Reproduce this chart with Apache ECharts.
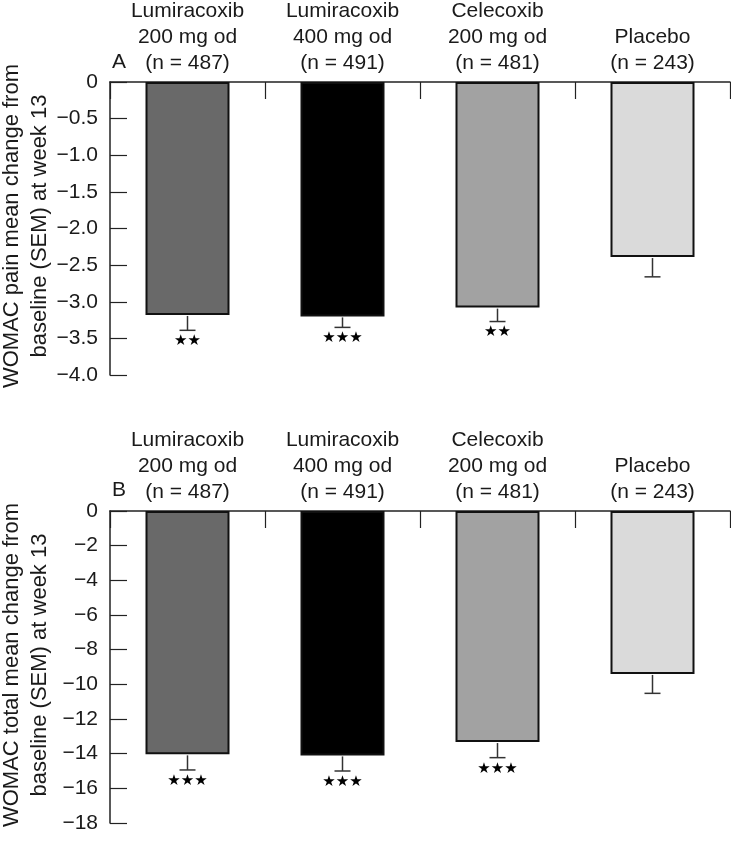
<!DOCTYPE html>
<html>
<head>
<meta charset="utf-8">
<script src="https://cdn.jsdelivr.net/npm/echarts@6/dist/echarts.min.js"></script>
<style>
html,body{margin:0;padding:0;background:#fff;}
#chart{width:731px;height:853px;}
</style>
</head>
<body>
<div id="chart"></div>
<script>
// ---- data ----
var categories = [
  'Lumiracoxib\n200 mg od\n(n = 487)',
  'Lumiracoxib\n400 mg od\n(n = 491)',
  'Celecoxib\n200 mg od\n(n = 481)',
  'Placebo\n(n = 243)'
];
var painMean = [-3.18, -3.20, -3.08, -2.39];
var painSem = [0.21, 0.15, 0.19, 0.27];
var painStars = ['★★', '★★★', '★★', ''];
var totalMean = [-14.04, -14.10, -13.33, -9.40];
var totalSem = [0.90, 0.90, 0.90, 1.12];
var totalStars = ['★★★', '★★★', '★★★', ''];
var painTicks = { min: -4, max: 0, interval: 0.5 };
var totalTicks = { min: -18, max: 0, interval: 2 };
var painTitle = 'WOMAC pain mean change from\nbaseline (SEM) at week 13';
var totalTitle = 'WOMAC total mean change from\nbaseline (SEM) at week 13';
var barColors = ['#696969', '#000000', '#a2a2a2', '#dadada'];

var FONT = 'Liberation Sans';
var TXT = '#1a1a1a';

function errData(mean, sem, stars) {
  return mean.map(function (m, i) { return [i, m, m - sem[i], stars[i]]; });
}

function errRender(params, api) {
  var i = api.value(0);
  var top = api.coord([i, api.value(1)]);
  var bot = api.coord([i, api.value(2)]);
  return { type: 'group', children: [
    { type: 'line', shape: { x1: top[0], y1: top[1] + 1, x2: bot[0], y2: bot[1] },
      style: { stroke: '#333', lineWidth: 1.5 } },
    { type: 'line', shape: { x1: bot[0] - 8, y1: bot[1], x2: bot[0] + 8, y2: bot[1] },
      style: { stroke: '#333', lineWidth: 1.5 } }
  ] };
}

function starRender(params, api) {
  var i = api.value(0);
  var bot = api.coord([i, api.value(2)]);
  return { type: 'text', x: bot[0], y: bot[1] + 11,
    style: { text: api.value(3), fill: '#000', font: '15px "DejaVu Sans"',
      align: 'center', verticalAlign: 'middle' } };
}

function xAxisCfg(gi) {
  return {
    type: 'category', gridIndex: gi, position: 'top', data: categories,
    axisLine: { show: true, lineStyle: { color: '#222', width: 1.5 } },
    axisTick: { show: true, inside: true, length: 17, lineStyle: { color: '#222', width: 1.2 } },
    axisLabel: { interval: 0, margin: 6, fontFamily: FONT, fontSize: 21, lineHeight: 26, color: TXT, align: 'center' }
  };
}

function yAxisCfg(gi, t, fmt) {
  return {
    type: 'value', gridIndex: gi, min: t.min, max: t.max, interval: t.interval,
    axisLine: { show: true, lineStyle: { color: '#222', width: 1.5 } },
    axisTick: { show: true, inside: true, length: 17, lineStyle: { color: '#222', width: 1.2 } },
    splitLine: { show: false },
    axisLabel: { margin: 12, fontFamily: FONT, fontSize: 21, color: TXT, formatter: fmt }
  };
}

function sideTitle(text, cy) {
  return { type: 'text', x: 26, y: cy, rotation: Math.PI / 2,
    style: { text: text, font: '22px "' + FONT + '"', lineHeight: 28, fill: TXT,
      align: 'center', verticalAlign: 'middle' } };
}

var chart = echarts.init(document.getElementById('chart'), null, { renderer: 'canvas' });
chart.setOption({
  backgroundColor: '#fff',
  animation: false,
  grid: [
    { left: 110, right: 1, top: 82, height: 293, containLabel: false, outerBoundsMode: 'none' },
    { left: 110, right: 1, top: 511, height: 312, containLabel: false, outerBoundsMode: 'none' }
  ],
  xAxis: [xAxisCfg(0), xAxisCfg(1)],
  yAxis: [
    yAxisCfg(0, painTicks, function (v) { return v === 0 ? '0' : '\u2212' + Math.abs(v).toFixed(1); }),
    yAxisCfg(1, totalTicks, function (v) { return v === 0 ? '0' : '\u2212' + Math.abs(v); })
  ],
  graphic: [
    sideTitle(painTitle, 226),
    sideTitle(totalTitle, 665),
    { type: 'text', left: 112, top: 52, style: { text: 'A', font: '21px "' + FONT + '"', fill: TXT } },
    { type: 'text', left: 112, top: 480, style: { text: 'B', font: '21px "' + FONT + '"', fill: TXT } }
  ],
  series: [
    { type: 'bar', xAxisIndex: 0, yAxisIndex: 0, barWidth: 84,
      data: painMean.map(function (v, i) { return { value: v, itemStyle: { color: barColors[i] } }; }),
      itemStyle: { borderColor: '#111', borderWidth: 2 } },
    { type: 'custom', xAxisIndex: 0, yAxisIndex: 0, renderItem: errRender,
      data: errData(painMean, painSem, painStars), z: 3 },
    { type: 'custom', xAxisIndex: 0, yAxisIndex: 0, renderItem: starRender,
      data: errData(painMean, painSem, painStars), z: 3 },
    { type: 'bar', xAxisIndex: 1, yAxisIndex: 1, barWidth: 84,
      data: totalMean.map(function (v, i) { return { value: v, itemStyle: { color: barColors[i] } }; }),
      itemStyle: { borderColor: '#111', borderWidth: 2 } },
    { type: 'custom', xAxisIndex: 1, yAxisIndex: 1, renderItem: errRender,
      data: errData(totalMean, totalSem, totalStars), z: 3 },
    { type: 'custom', xAxisIndex: 1, yAxisIndex: 1, renderItem: starRender,
      data: errData(totalMean, totalSem, totalStars), z: 3 }
  ]
});
</script>
</body>
</html>
